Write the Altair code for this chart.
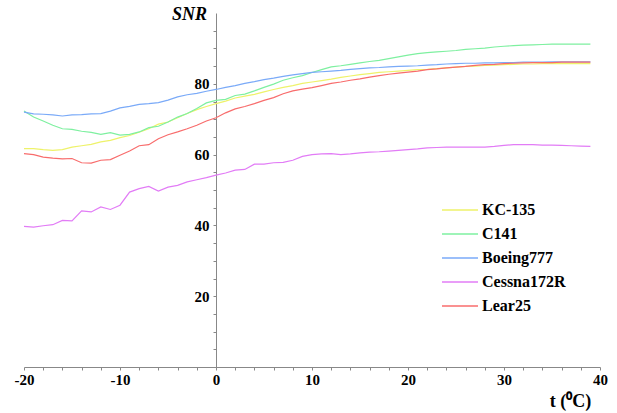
import altair as alt
import pandas as pd

t = list(range(-20, 40))

kc135 = [61.7, 61.7, 61.4, 61.2, 61.4, 62.1, 62.5, 62.9, 63.6, 64.0,
         64.8, 65.4, 66.3, 67.3, 68.6, 69.2, 70.4, 71.6, 72.7, 73.6,
         74.4, 75.1, 76.0, 76.5, 77.0, 77.7, 78.4, 79.0, 79.5, 80.1,
         80.5, 80.9, 81.3, 81.8, 82.2, 82.6, 82.9, 83.2, 83.4, 83.6,
         83.8, 84.0, 84.1, 84.3, 84.5, 84.7, 84.9, 85.0, 85.2, 85.3,
         85.4, 85.5, 85.6, 85.6, 85.7, 85.7, 85.7, 85.7, 85.7, 85.7]
c141 = [72.3, 70.6, 69.5, 68.3, 67.3, 67.1, 66.6, 66.3, 65.7, 66.2,
        65.5, 65.7, 66.4, 67.6, 68.0, 69.2, 70.6, 71.6, 73.0, 74.6,
        75.3, 75.6, 76.7, 77.1, 78.0, 79.0, 79.9, 81.0, 81.7, 82.3,
        83.2, 84.0, 84.8, 85.1, 85.5, 85.9, 86.3, 86.6, 87.1, 87.6,
        88.1, 88.5, 88.8, 89.0, 89.2, 89.4, 89.7, 89.9, 90.1, 90.4,
        90.6, 90.8, 90.9, 91.0, 91.1, 91.2, 91.2, 91.2, 91.2, 91.2]
boeing777 = [72.0, 71.5, 71.4, 71.2, 70.9, 71.2, 71.3, 71.5, 71.6, 72.3,
             73.2, 73.6, 74.2, 74.4, 74.7, 75.4, 76.3, 76.9, 77.3, 77.9,
             78.4, 79.0, 79.5, 80.1, 80.6, 81.2, 81.6, 82.1, 82.5, 82.9,
             83.2, 83.4, 83.6, 83.8, 84.1, 84.3, 84.5, 84.6, 84.8, 84.9,
             85.0, 85.1, 85.3, 85.4, 85.6, 85.7, 85.8, 85.8, 85.9, 85.9,
             86.0, 86.0, 86.1, 86.1, 86.1, 86.2, 86.2, 86.2, 86.2, 86.2]
cessna172r = [39.7, 39.5, 39.9, 40.2, 41.4, 41.3, 44.1, 43.8, 45.2, 44.5,
              45.7, 49.4, 50.4, 51.0, 49.7, 50.8, 51.3, 52.3, 52.9, 53.5,
              54.2, 54.8, 55.6, 55.8, 57.3, 57.3, 57.7, 57.8, 58.4, 59.5,
              60.0, 60.2, 60.3, 60.0, 60.2, 60.5, 60.7, 60.8, 61.0, 61.2,
              61.4, 61.6, 61.9, 62.0, 62.1, 62.1, 62.1, 62.1, 62.1, 62.3,
              62.6, 62.8, 62.8, 62.8, 62.7, 62.7, 62.6, 62.5, 62.4, 62.3]
lear25 = [60.3, 60.0, 59.3, 59.0, 58.8, 58.9, 57.7, 57.6, 58.4, 58.6,
          59.8, 61.0, 62.5, 62.8, 64.5, 65.6, 66.4, 67.3, 68.3, 69.5,
          70.4, 71.8, 72.9, 73.6, 74.4, 75.3, 76.1, 77.2, 78.0, 78.5,
          78.9, 79.5, 80.1, 80.5, 81.0, 81.4, 81.9, 82.3, 82.7, 83.0,
          83.3, 83.6, 84.0, 84.2, 84.5, 84.7, 84.9, 85.2, 85.4, 85.5,
          85.7, 85.8, 85.9, 86.0, 86.0, 86.0, 86.1, 86.1, 86.1, 86.1]

series = ["KC-135", "C141", "Boeing777", "Cessna172R", "Lear25"]
colors = ["#eef26a", "#7ef0a0", "#7aaaf8", "#e27cf6", "#f86c6c"]
x_ticks = list(range(-20, 41, 2))
y_ticks = list(range(5, 100, 5))

rows = []
for name, vals in zip(series, [kc135, c141, boeing777, cessna172r, lear25]):
    for ti, v in zip(t, vals):
        rows.append({"t": ti, "snr": v, "aircraft": name})
df = pd.DataFrame(rows)

font = "Liberation Serif, Times New Roman, Times, serif"

chart = alt.Chart(df).mark_line(strokeWidth=1.2).encode(
    x=alt.X(
        "t:Q",
        scale=alt.Scale(domain=[-20, 40], nice=False, zero=False),
        axis=alt.Axis(
            values=x_ticks,
            labelExpr="datum.value % 10 === 0 ? '' + datum.value : ''",
            grid=False, domainColor="#888888", tickColor="#888888",
            tickSize=3, labelPadding=2, labelFont=font, labelFontSize=15,
            labelFontWeight="bold", labelColor="#000000", labelFlush=False,
            title="t (⁰C)", titleFont=font, titleFontSize=18,
            titleFontWeight="bold", titleColor="#000000",
            titleX=546, titleY=34, titleAlign="center", titleBaseline="middle",
        ),
    ),
    y=alt.Y(
        "snr:Q",
        scale=alt.Scale(domain=[0, 100], nice=False),
        axis=alt.Axis(
            values=y_ticks, offset=-192,
            labelExpr="datum.value % 20 === 0 ? '' + datum.value : ''",
            grid=False, domainColor="#888888", tickColor="#888888",
            tickSize=3, labelPadding=4, labelFont=font, labelFontSize=15,
            labelFontWeight="bold", labelColor="#000000",
            title="SNR", titleFont=font, titleFontSize=18, titleFontStyle="italic",
            titleFontWeight="bold", titleColor="#000000", titleAngle=0,
            titleX=-27, titleY=1, titleAlign="center", titleBaseline="middle",
        ),
    ),
    color=alt.Color(
        "aircraft:N",
        scale=alt.Scale(domain=series, range=colors),
        legend=alt.Legend(
            title=None, orient="none", legendX=428, legendY=189,
            symbolType="M-3,0H3", symbolSize=144, symbolStrokeWidth=1.5,
            labelFont=font, labelFontSize=16, labelFontWeight="bold",
            labelColor="#000000", labelOffset=14, rowPadding=8, padding=0,
        ),
    ),
).properties(
    width=576, height=354,
    padding={"left": 24, "top": 13, "right": 17, "bottom": 46},
    autosize=alt.AutoSizeParams(type="none"),
).configure_view(stroke=None)

chart.save("out.html", embed_options={"renderer": "svg", "actions": False})
